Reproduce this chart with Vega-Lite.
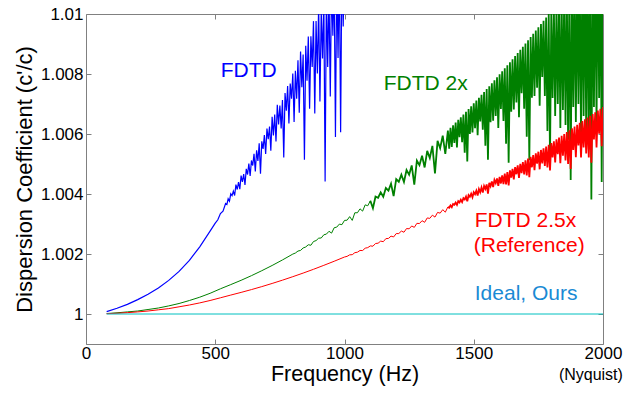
{
"$schema": "https://vega.github.io/schema/vega-lite/v6.json",
"width": 517, "height": 330,
"autosize": {"type": "none"},
"padding": {"left": 86, "top": 14, "right": 31, "bottom": 49},
"background": "white",
"config": {"view": {"stroke": "#808080", "strokeWidth": 1}, "font": "Liberation Sans",
  "axis": {"grid": false, "domain": false, "labelFlush": false, "labelOverlap": false, "tickColor": "#808080", "tickSize": -5, "labelColor": "black", "labelFontSize": 17, "labelFont": "Liberation Sans", "titleFont": "Liberation Sans", "titleFontSize": 22, "titleFontWeight": "normal", "titleColor": "black"}},
"datasets": {
"blue": [{"f":80,"v":1.00008},{"f":120,"v":1.00019},{"f":160,"v":1.00032},{"f":200,"v":1.00048},{"f":240,"v":1.00066},{"f":280,"v":1.00087},{"f":320,"v":1.00112},{"f":360,"v":1.00142},{"f":400,"v":1.00179},{"f":440,"v":1.00224},{"f":480,"v":1.00276},{"f":500,"v":1.00303},{"f":510,"v":1.00314},{"f":520,"v":1.00335},{"f":530,"v":1.00343},
{"f":540,"v":1.003683},{"f":545,"v":1.003650},{"f":550,"v":1.003841},{"f":555,"v":1.003760},{"f":560,"v":1.004006},{"f":565,"v":1.003946},{"f":570,"v":1.004096},{"f":575,"v":1.003950},{"f":580,"v":1.004311},{"f":585,"v":1.00415},{"f":590,"v":1.0044},{"f":595,"v":1.004160},
{"f":600,"v":1.004615},{"f":605,"v":1.004400},{"f":610,"v":1.004666},{"f":615,"v":1.004300},{"f":620,"v":1.004841},{"f":625,"v":1.004650},{"f":630,"v":1.005017},{"f":635,"v":1.004600},{"f":640,"v":1.005117},{"f":645,"v":1.004950},{"f":650,"v":1.005343},{"f":655,"v":1.004750},{"f":660,"v":1.005455},{"f":665,"v":1.005100},{"f":670,"v":1.005692},{"f":675,"v":1.004674},{"f":680,"v":1.005755},{"f":685,"v":1.005506},{"f":690,"v":1.005967},{"f":695,"v":1.005338},
{"f":700,"v":1.006179},{"f":705,"v":1.005826},{"f":710,"v":1.006252},{"f":715,"v":1.005439},{"f":720,"v":1.006575},{"f":725,"v":1.005952},{"f":730,"v":1.006649},{"f":735,"v":1.005751},{"f":740,"v":1.006972},{"f":745,"v":1.006319},{"f":750,"v":1.006945},{"f":755,"v":1.006182},{"f":760,"v":1.007129},{"f":765,"v":1.005221},{"f":770,"v":1.007363},{"f":775,"v":1.006776},{"f":780,"v":1.007598},{"f":785,"v":1.00635},{"f":790,"v":1.007682},{"f":795,"v":1.007174},
{"f":800,"v":1.008016},{"f":805,"v":1.006404},{"f":810,"v":1.008111},{"f":815,"v":1.007179},{"f":820,"v":1.008457},{"f":825,"v":1.006705},{"f":830,"v":1.008752},{"f":835,"v":1.00756},{"f":840,"v":1.008648},{"f":845,"v":1.005146},{"f":850,"v":1.008943},{"f":855,"v":1.007776},{"f":860,"v":1.009249},{"f":865,"v":1.006842},{"f":870,"v":1.009255},{"f":875,"v":1.008234},{"f":880,"v":1.009762},{"f":885,"v":1.006685},{"f":890,"v":1.009768},{"f":895,"v":1.008021},
{"f":900,"v":1.010274},{"f":905,"v":1.007083},{"f":910,"v":1.010091},{"f":915,"v":1.00852},{"f":920,"v":1.010508},{"f":925,"v":1.004417},{"f":930,"v":1.010825},{"f":935,"v":1.008234},{"f":940,"v":1.010742},{"f":945,"v":1.007251},{"f":950,"v":1.011159},{"f":955,"v":1.009273},{"f":960,"v":1.011187},{"f":965,"v":1.005901},{"f":970,"v":1.011415},{"f":975,"v":1.00853},{"f":980,"v":1.011644},{"f":985,"v":1.006058},{"f":990,"v":1.011872},{"f":995,"v":1.009586},{"f":1000,"v":1.0121}],
"green": [{"f":80,"v":1.000015},{"f":120,"v":1.00004},{"f":160,"v":1.00007},{"f":200,"v":1.0001},{"f":240,"v":1.00015},{"f":280,"v":1.0002},{"f":320,"v":1.00027},{"f":360,"v":1.00035},{"f":400,"v":1.00045},{"f":440,"v":1.00056},{"f":480,"v":1.00069},{"f":520,"v":1.00084},{"f":560,"v":1.00098},{"f":600,"v":1.001123},{"f":640,"v":1.001278},{"f":680,"v":1.001443},{"f":720,"v":1.001617},{"f":760,"v":1.001802},
{"f":800,"v":1.001997},{"f":810,"v":1.002032},{"f":820,"v":1.002098},{"f":830,"v":1.002119},{"f":840,"v":1.002201},{"f":850,"v":1.002234},{"f":860,"v":1.002308},{"f":870,"v":1.002292},{"f":880,"v":1.002416},{"f":890,"v":1.002447},{"f":900,"v":1.002527},{"f":910,"v":1.002534},{"f":920,"v":1.002641},{"f":930,"v":1.002663},{"f":940,"v":1.002757},{"f":950,"v":1.002696},{"f":960,"v":1.002875},{"f":970,"v":1.002896},{"f":980,"v":1.002996},{"f":990,"v":1.002978},
{"f":1000,"v":1.00312},{"f":1010,"v":1.003127},{"f":1020,"v":1.003246},{"f":1030,"v":1.00312},{"f":1040,"v":1.003375},{"f":1050,"v":1.003374},{"f":1060,"v":1.003506},{"f":1070,"v":1.003429},{"f":1080,"v":1.003639},{"f":1090,"v":1.003607},{"f":1100,"v":1.003775},{"f":1110,"v":1.003524},{"f":1120,"v":1.003914},{"f":1130,"v":1.003876},{"f":1140,"v":1.004055},{"f":1150,"v":1.003906},{"f":1160,"v":1.004198},{"f":1170,"v":1.004113},{"f":1180,"v":1.004344},{"f":1190,"v":1.003928},
{"f":1200,"v":1.004493},{"f":1210,"v":1.004408},{"f":1220,"v":1.004644},{"f":1230,"v":1.0044},{"f":1240,"v":1.004797},{"f":1250,"v":1.004645},{"f":1260,"v":1.004953},{"f":1270,"v":1.004312},{"f":1280,"v":1.005112},{"f":1290,"v":1.004962},{"f":1300,"v":1.005273},{"f":1310,"v":1.004884},{"f":1320,"v":1.005436},{"f":1330,"v":1.005199},{"f":1340,"v":1.005602},{"f":1350,"v":1.004686},{"f":1360,"v":1.005771},{"f":1370,"v":1.005526},{"f":1380,"v":1.005942},{"f":1390,"v":1.005338},
{"f":1400,"v":1.006115},{"f":1405,"v":1.00551},{"f":1410,"v":1.006203},{"f":1415,"v":1.005572},{"f":1420,"v":1.006291},{"f":1425,"v":1.005705},{"f":1430,"v":1.00638},{"f":1435,"v":1.005555},{"f":1440,"v":1.00647},{"f":1445,"v":1.005895},{"f":1450,"v":1.00656},{"f":1455,"v":1.005725},{"f":1460,"v":1.006651},{"f":1465,"v":1.005376},{"f":1470,"v":1.006742},{"f":1475,"v":1.005088},{"f":1480,"v":1.006834},{"f":1485,"v":1.006005},{"f":1490,"v":1.006927},{"f":1495,"v":1.006048},
{"f":1500,"v":1.00702},{"f":1505,"v":1.00619},{"f":1510,"v":1.007114},{"f":1515,"v":1.005961},{"f":1520,"v":1.007208},{"f":1525,"v":1.006416},{"f":1530,"v":1.007304},{"f":1535,"v":1.006141},{"f":1540,"v":1.007399},{"f":1545,"v":1.005607},{"f":1550,"v":1.007496},{"f":1555,"v":1.005144},{"f":1560,"v":1.007593},{"f":1565,"v":1.00639},{"f":1570,"v":1.00769},{"f":1575,"v":1.006439},{"f":1580,"v":1.007789},{"f":1585,"v":1.0066},{"f":1590,"v":1.007888},{"f":1595,"v":1.006197},
{"f":1600,"v":1.007987},{"f":1605,"v":1.006837},{"f":1610,"v":1.008087},{"f":1615,"v":1.006437},{"f":1620,"v":1.008188},{"f":1625,"v":1.005679},{"f":1630,"v":1.00829},{"f":1635,"v":1.005041},{"f":1640,"v":1.008392},{"f":1645,"v":1.00674},{"f":1650,"v":1.008494},{"f":1655,"v":1.00682},{"f":1660,"v":1.008597},{"f":1665,"v":1.00705},{"f":1670,"v":1.008701},{"f":1675,"v":1.006563},{"f":1680,"v":1.008806},{"f":1685,"v":1.007358},{"f":1690,"v":1.008911},{"f":1695,"v":1.006844},
{"f":1700,"v":1.009017},{"f":1705,"v":1.00591},{"f":1710,"v":1.009123},{"f":1715,"v":1.005126},{"f":1720,"v":1.00923},{"f":1725,"v":1.00721},{"f":1730,"v":1.009338},{"f":1735,"v":1.007267},{"f":1740,"v":1.009446},{"f":1745,"v":1.00754},{"f":1750,"v":1.009555},{"f":1755,"v":1.00694},{"f":1760,"v":1.009665},{"f":1765,"v":1.0079},{"f":1770,"v":1.009775},{"f":1775,"v":1.00727},{"f":1780,"v":1.009885},{"f":1785,"v":1.006101},{"f":1790,"v":1.009997},{"f":1795,"v":1.005153},
{"f":1800,"v":1.010109},{"f":1805,"v":1.0072},{"f":1810,"v":1.01022},{"f":1815,"v":1.0066},{"f":1820,"v":1.01033},{"f":1825,"v":1.007},{"f":1830,"v":1.01045},{"f":1835,"v":1.0062},{"f":1840,"v":1.01056},{"f":1845,"v":1.0068},{"f":1850,"v":1.01068},{"f":1855,"v":1.0063},{"f":1860,"v":1.01079},{"f":1865,"v":1.00581},{"f":1870,"v":1.01091},{"f":1875,"v":1.00447},{"f":1880,"v":1.01103},{"f":1885,"v":1.0069},{"f":1890,"v":1.01115},{"f":1895,"v":1.0064},
{"f":1900,"v":1.01126},{"f":1905,"v":1.007},{"f":1910,"v":1.01138},{"f":1915,"v":1.0059},{"f":1920,"v":1.0115},{"f":1925,"v":1.0066},{"f":1930,"v":1.01162},{"f":1935,"v":1.0061},{"f":1940,"v":1.01174},{"f":1945,"v":1.00548},{"f":1950,"v":1.01186},{"f":1955,"v":1.00382},{"f":1960,"v":1.01199},{"f":1965,"v":1.0069},{"f":1970,"v":1.01211},{"f":1975,"v":1.0063},{"f":1980,"v":1.01223},{"f":1985,"v":1.0072},{"f":1990,"v":1.01236},{"f":1995,"v":1.0044},{"f":2000,"v":1.01248}],
"red": [{"f":80,"v":1.00001},{"f":120,"v":1.000025},{"f":160,"v":1.000045},{"f":200,"v":1.00007},{"f":240,"v":1.0001},{"f":280,"v":1.00014},{"f":320,"v":1.00018},{"f":360,"v":1.00024},{"f":400,"v":1.0003},{"f":440,"v":1.00037},{"f":480,"v":1.00045},{"f":520,"v":1.00054},{"f":560,"v":1.000631},{"f":600,"v":1.00072},{"f":640,"v":1.000814},{"f":680,"v":1.000913},{"f":720,"v":1.001018},{"f":760,"v":1.001128},{"f":800,"v":1.001244},{"f":840,"v":1.001364},{"f":880,"v":1.00149},{"f":920,"v":1.001622},{"f":960,"v":1.001758},
{"f":1000,"v":1.0019},{"f":1010,"v":1.001921},{"f":1020,"v":1.001972},{"f":1030,"v":1.001978},{"f":1040,"v":1.002044},{"f":1050,"v":1.00206},{"f":1060,"v":1.002118},{"f":1070,"v":1.002116},{"f":1080,"v":1.002194},{"f":1090,"v":1.002212},{"f":1100,"v":1.00227},{"f":1110,"v":1.00226},{"f":1120,"v":1.00235},{"f":1130,"v":1.00236},{"f":1140,"v":1.00243},{"f":1150,"v":1.00241},{"f":1160,"v":1.002512},{"f":1170,"v":1.002519},{"f":1180,"v":1.002596},{"f":1190,"v":1.002568},
{"f":1200,"v":1.00268},{"f":1210,"v":1.002682},{"f":1220,"v":1.002764},{"f":1230,"v":1.002726},{"f":1240,"v":1.002848},{"f":1250,"v":1.00284},{"f":1260,"v":1.002934},{"f":1270,"v":1.002888},{"f":1280,"v":1.003022},{"f":1290,"v":1.003016},{"f":1300,"v":1.00311},{"f":1310,"v":1.003056},{"f":1320,"v":1.003202},{"f":1330,"v":1.003188},{"f":1340,"v":1.003294},{"f":1350,"v":1.00323},{"f":1360,"v":1.003386},{"f":1370,"v":1.003362},{"f":1380,"v":1.003478},{"f":1390,"v":1.003394},
{"f":1400,"v":1.00357},{"f":1405,"v":1.003542},{"f":1410,"v":1.003618},{"f":1415,"v":1.003561},{"f":1420,"v":1.003666},{"f":1425,"v":1.003641},{"f":1430,"v":1.003714},{"f":1435,"v":1.003638},{"f":1440,"v":1.003762},{"f":1445,"v":1.003718},{"f":1450,"v":1.00381},{"f":1455,"v":1.003731},{"f":1460,"v":1.00386},{"f":1465,"v":1.003817},{"f":1470,"v":1.00391},{"f":1475,"v":1.003755},{"f":1480,"v":1.00396},{"f":1485,"v":1.003905},{"f":1490,"v":1.00401},{"f":1495,"v":1.003891},
{"f":1500,"v":1.00406},{"f":1505,"v":1.003995},{"f":1510,"v":1.004112},{"f":1515,"v":1.003948},{"f":1520,"v":1.004164},{"f":1525,"v":1.00406},{"f":1530,"v":1.004216},{"f":1535,"v":1.004047},{"f":1540,"v":1.004268},{"f":1545,"v":1.00417},{"f":1550,"v":1.00432},{"f":1555,"v":1.004015},{"f":1560,"v":1.00437},{"f":1565,"v":1.004259},{"f":1570,"v":1.00442},{"f":1575,"v":1.004229},{"f":1580,"v":1.00447},{"f":1585,"v":1.004365},{"f":1590,"v":1.00452},{"f":1595,"v":1.004272},
{"f":1600,"v":1.00457},{"f":1605,"v":1.004351},{"f":1610,"v":1.004624},{"f":1615,"v":1.004329},{"f":1620,"v":1.004678},{"f":1625,"v":1.004323},{"f":1630,"v":1.004732},{"f":1635,"v":1.004289},{"f":1640,"v":1.004786},{"f":1645,"v":1.004543},{"f":1650,"v":1.00484},{"f":1655,"v":1.004486},{"f":1660,"v":1.004896},{"f":1665,"v":1.004659},{"f":1670,"v":1.004952},{"f":1675,"v":1.00454},{"f":1680,"v":1.005008},{"f":1685,"v":1.004694},{"f":1690,"v":1.005064},{"f":1695,"v":1.00465},
{"f":1700,"v":1.00512},{"f":1705,"v":1.004622},{"f":1710,"v":1.005178},{"f":1715,"v":1.004557},{"f":1720,"v":1.005236},{"f":1725,"v":1.004891},{"f":1730,"v":1.005294},{"f":1735,"v":1.004791},{"f":1740,"v":1.005352},{"f":1745,"v":1.005011},{"f":1750,"v":1.00541},{"f":1755,"v":1.004823},{"f":1760,"v":1.005468},{"f":1765,"v":1.005017},{"f":1770,"v":1.005526},{"f":1775,"v":1.004933},{"f":1780,"v":1.005584},{"f":1785,"v":1.004882},{"f":1790,"v":1.005642},{"f":1795,"v":1.004781},
{"f":1800,"v":1.0057},{"f":1805,"v":1.005219},{"f":1810,"v":1.00576},{"f":1815,"v":1.005055},{"f":1820,"v":1.00582},{"f":1825,"v":1.00533},{"f":1830,"v":1.00588},{"f":1835,"v":1.00503},{"f":1840,"v":1.00594},{"f":1845,"v":1.005274},{"f":1850,"v":1.006},{"f":1855,"v":1.005116},{"f":1860,"v":1.006062},{"f":1865,"v":1.005005},{"f":1870,"v":1.006124},{"f":1875,"v":1.004835},{"f":1880,"v":1.006186},{"f":1885,"v":1.005469},{"f":1890,"v":1.006248},{"f":1895,"v":1.005229},
{"f":1900,"v":1.00631},{"f":1905,"v":1.00562},{"f":1910,"v":1.00637},{"f":1915,"v":1.005216},{"f":1920,"v":1.00643},{"f":1925,"v":1.005548},{"f":1930,"v":1.00649},{"f":1935,"v":1.00535},{"f":1940,"v":1.00655},{"f":1945,"v":1.00522},{"f":1950,"v":1.00661},{"f":1955,"v":1.005039},{"f":1960,"v":1.006668},{"f":1965,"v":1.005817},{"f":1970,"v":1.006726},{"f":1975,"v":1.005555},{"f":1980,"v":1.006784},{"f":1985,"v":1.006013},{"f":1990,"v":1.006842},{"f":1995,"v":1.005591},{"f":2000,"v":1.0069}],
"ideal": [{"f":80,"v":1},{"f":2000,"v":1}],
"labels": [{"label":"FDTD","f":521,"v":1.0079},{"label":"FDTD 2x","f":1152,"v":1.007453},{"label":"FDTD 2.5x","f":1504,"v":1.002887},{"label":"(Reference)","f":1500,"v":1.002067},{"label":"Ideal, Ours","f":1504,"v":1.000477}],
"note": [{"label":"(Nyquist)","f":2077,"v":0.99781}]
},
"layer": [
{"data": {"name": "blue"}, "mark": {"type": "line", "color": "#0000ff", "strokeWidth": 1.2, "clip": true},
 "encoding": {
  "x": {"field": "f", "type": "quantitative", "scale": {"domain": [0, 2000], "nice": false, "zero": false}, "axis": {"orient": "bottom", "values": [0, 500, 1000, 1500, 2000], "format": "d", "title": "Frequency (Hz)", "titleFontSize": 21.5, "labelPadding": 6, "titlePadding": 2}},
  "y": {"field": "v", "type": "quantitative", "scale": {"domain": [0.999, 1.01], "nice": false, "zero": false}, "axis": {"orient": "left", "values": [1, 1.002, 1.004, 1.006, 1.008, 1.01], "format": "~g", "title": "Dispersion Coefficient (c'/c)", "labelPadding": 8, "titlePadding": 4}}}},
{"data": {"name": "green"}, "transform": [{"filter": "datum.f <= 1100"}], "mark": {"type": "line", "color": "#008000", "strokeWidth": 1, "clip": true},
 "encoding": {
  "x": {"field": "f", "type": "quantitative", "scale": {"domain": [0, 2000], "nice": false, "zero": false}, "axis": {"orient": "top", "values": [500, 1000, 1500], "labels": false, "title": null}},
  "y": {"field": "v", "type": "quantitative", "scale": {"domain": [0.999, 1.01], "nice": false, "zero": false}, "axis": {"orient": "right", "values": [1, 1.002, 1.004, 1.006, 1.008], "labels": false, "title": null}}}},
{"data": {"name": "green"}, "transform": [{"filter": "datum.f >= 1100"}], "mark": {"type": "line", "color": "#008000", "strokeWidth": 1.8, "clip": true},
 "encoding": {
  "x": {"field": "f", "type": "quantitative", "scale": {"domain": [0, 2000], "nice": false, "zero": false}, "axis": null},
  "y": {"field": "v", "type": "quantitative", "scale": {"domain": [0.999, 1.01], "nice": false, "zero": false}, "axis": null}}},
{"data": {"name": "red"}, "transform": [{"filter": "datum.f <= 1400"}], "mark": {"type": "line", "color": "#ff0000", "strokeWidth": 1, "clip": true},
 "encoding": {
  "x": {"field": "f", "type": "quantitative", "scale": {"domain": [0, 2000], "nice": false, "zero": false}, "axis": null},
  "y": {"field": "v", "type": "quantitative", "scale": {"domain": [0.999, 1.01], "nice": false, "zero": false}, "axis": null}}},
{"data": {"name": "red"}, "transform": [{"filter": "datum.f >= 1400"}], "mark": {"type": "line", "color": "#ff0000", "strokeWidth": 1.8, "clip": true},
 "encoding": {
  "x": {"field": "f", "type": "quantitative", "scale": {"domain": [0, 2000], "nice": false, "zero": false}, "axis": null},
  "y": {"field": "v", "type": "quantitative", "scale": {"domain": [0.999, 1.01], "nice": false, "zero": false}, "axis": null}}},
{"data": {"name": "ideal"}, "mark": {"type": "line", "color": "#00c0c0", "strokeWidth": 1, "clip": true},
 "encoding": {
  "x": {"field": "f", "type": "quantitative", "scale": {"domain": [0, 2000], "nice": false, "zero": false}, "axis": null},
  "y": {"field": "v", "type": "quantitative", "scale": {"domain": [0.999, 1.01], "nice": false, "zero": false}, "axis": null}}},
{"data": {"name": "labels"}, "mark": {"type": "text", "align": "left", "baseline": "alphabetic", "fontSize": 21, "font": "Liberation Sans"},
 "encoding": {
  "x": {"field": "f", "type": "quantitative", "scale": {"domain": [0, 2000], "nice": false, "zero": false}, "axis": null},
  "y": {"field": "v", "type": "quantitative", "scale": {"domain": [0.999, 1.01], "nice": false, "zero": false}, "axis": null},
  "text": {"field": "label"},
  "color": {"field": "label", "type": "nominal", "legend": null, "scale": {"domain": ["FDTD", "FDTD 2x", "FDTD 2.5x", "(Reference)", "Ideal, Ours"], "range": ["#0000ff", "#008000", "#ff0000", "#ff0000", "#1a8ad4"]}}}},
{"data": {"name": "note"}, "mark": {"type": "text", "align": "right", "baseline": "alphabetic", "fontSize": 16, "font": "Liberation Sans", "color": "black"},
 "encoding": {
  "x": {"field": "f", "type": "quantitative", "scale": {"domain": [0, 2000], "nice": false, "zero": false}, "axis": null},
  "y": {"field": "v", "type": "quantitative", "scale": {"domain": [0.999, 1.01], "nice": false, "zero": false}, "axis": null},
  "text": {"field": "label"}}}
],
"resolve": {"axis": {"x": "independent", "y": "independent"}}
}
